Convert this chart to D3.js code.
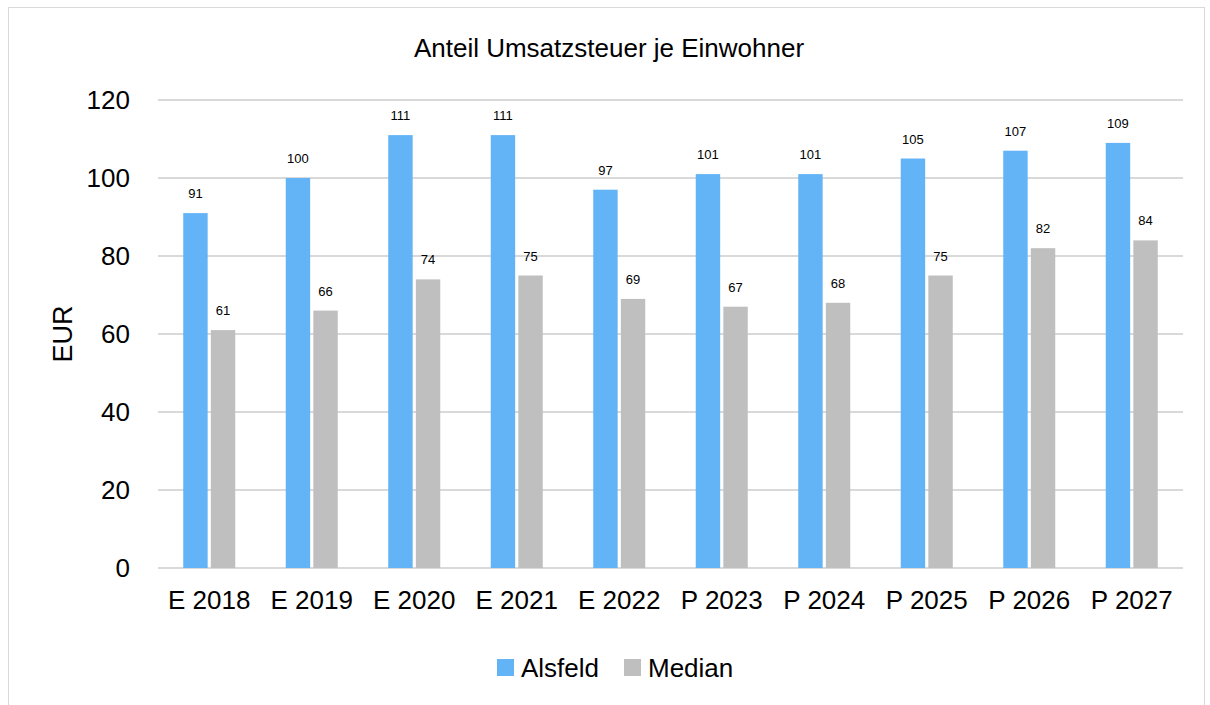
<!DOCTYPE html>
<html>
<head>
<meta charset="utf-8">
<script src="https://cdn.jsdelivr.net/npm/d3@7"></script>
<style>
  body { margin: 0; background: #fff; }
  svg { font-family: "Liberation Sans Narrow", "Liberation Sans", Arial, sans-serif; }
</style>
</head>
<body>
<svg width="1210" height="705"></svg>
<script>
const categories = ["E 2018", "E 2019", "E 2020", "E 2021", "E 2022", "P 2023", "P 2024", "P 2025", "P 2026", "P 2027"];
const alsfeld = [91, 100, 111, 111, 97, 101, 101, 105, 107, 109];
const median = [61, 66, 74, 75, 69, 67, 68, 75, 82, 84];
const seriesNames = ["Alsfeld", "Median"];
const colors = ["#63B4F6", "#BFBFBF"];
const yTicks = [0, 20, 40, 60, 80, 100, 120];

const svg = d3.select("svg");

// outer frame
svg.append("rect")
    .attr("x", 8.5).attr("y", 7.5)
    .attr("width", 1196).attr("height", 720)
    .attr("fill", "none")
    .attr("stroke", "#d9d9d9");

const plotLeft = 158, plotRight = 1183, plotTop = 100, plotBottom = 568;

const x = d3.scaleBand().domain(categories).range([plotLeft, plotRight]);
const y = d3.scaleLinear().domain([0, 120]).range([plotBottom, plotTop]);
const inner = d3.scaleBand().domain(seriesNames).range([0, 52]).paddingInner(0.115);

// gridlines
svg.append("g")
    .selectAll("line")
    .data(yTicks)
    .enter()
    .append("line")
    .attr("x1", plotLeft).attr("x2", plotRight)
    .attr("y1", d => y(d)).attr("y2", d => y(d))
    .attr("stroke", "#d9d9d9")
    .attr("stroke-width", 2);

// y axis labels
const yAxis = svg.append("g")
    .attr("transform", `translate(${plotLeft - 28},0)`)
    .call(d3.axisLeft(y).tickValues(yTicks).tickSize(0).tickPadding(0));
yAxis.select(".domain").remove();
yAxis.selectAll("text")
    .attr("font-size", 26)
    .attr("font-family", "inherit")
    .attr("fill", "#000");

// x axis labels
const xAxis = svg.append("g")
    .attr("transform", `translate(0,${plotBottom})`)
    .call(d3.axisBottom(x).tickSize(0).tickPadding(23));
xAxis.select(".domain").remove();
xAxis.selectAll("text")
    .attr("font-size", 26)
    .attr("font-family", "inherit")
    .attr("fill", "#000");

const data = categories.map((c, i) => ({ cat: c, values: [alsfeld[i], median[i]] }));

const groups = svg.append("g")
    .selectAll("g")
    .data(data)
    .enter()
    .append("g")
    .attr("transform", d => `translate(${x(d.cat) + x.bandwidth() / 2 - 26},0)`);

groups.selectAll("rect")
    .data(d => d.values.map((v, j) => ({ name: seriesNames[j], v: v, j: j })))
    .enter()
    .append("rect")
    .attr("x", d => inner(d.name))
    .attr("width", inner.bandwidth())
    .attr("y", d => y(d.v))
    .attr("height", d => plotBottom - y(d.v))
    .attr("fill", d => colors[d.j]);

groups.selectAll("text")
    .data(d => d.values.map((v, j) => ({ name: seriesNames[j], v: v })))
    .enter()
    .append("text")
    .attr("x", d => inner(d.name) + inner.bandwidth() / 2)
    .attr("y", d => y(d.v) - 15)
    .attr("text-anchor", "middle")
    .attr("font-size", 13)
    .text(d => d.v);

// title
svg.append("text")
    .attr("x", 609).attr("y", 57)
    .attr("text-anchor", "middle")
    .attr("font-size", 26)
    .text("Anteil Umsatzsteuer je Einwohner");

// y title
svg.append("text")
    .attr("transform", "translate(72,334) rotate(-90)")
    .attr("text-anchor", "middle")
    .attr("font-size", 27)
    .text("EUR");

// legend
const legend = svg.append("g").attr("transform", "translate(497,667)");
const lx = [0, 127];
seriesNames.forEach((n, i) => {
    legend.append("rect")
        .attr("x", lx[i]).attr("y", -8)
        .attr("width", 17).attr("height", 17)
        .attr("fill", colors[i]);
    legend.append("text")
        .attr("x", lx[i] + 24).attr("y", 10)
        .attr("font-size", 26)
        .text(n);
});
</script>
</body>
</html>
